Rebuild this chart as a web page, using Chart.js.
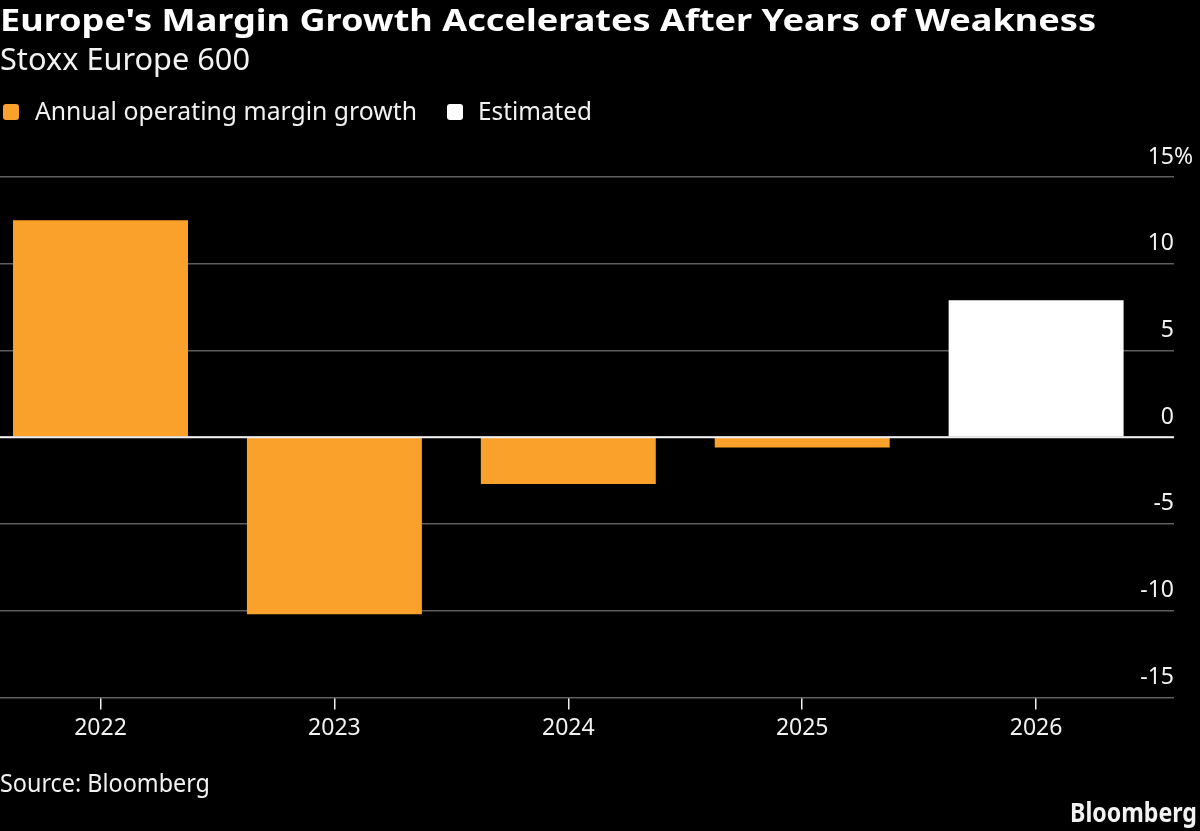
<!DOCTYPE html>
<html>
<head>
<meta charset="utf-8">
<script src="https://cdn.jsdelivr.net/npm/chart.js@4"></script>
<style>
  html, body { margin: 0; padding: 0; background: #000; }
  body { width: 1200px; height: 831px; position: relative; overflow: hidden; font-family: "Noto Sans", sans-serif; color: #f2f2f2; }
  .txt { position: absolute; left: 0; line-height: 1; white-space: nowrap; transform-origin: 0 0; }
  #title { top: 4px; font-size: 31px; font-weight: 700; color: #fff; }
  #subtitle { top: 43px; font-size: 31px; font-weight: 400; }
  .legend { top: 98px; font-size: 25px; }
  .sw { position: absolute; width: 16px; height: 16px; border-radius: 3px; top: 104px; }
  #source { top: 769px; font-size: 26px; }
  #logo { top: 799px; left: 1070px; font-size: 26px; font-weight: 700; }
  #wrap { position: absolute; left: 0; top: 0; width: 1200px; height: 831px; }
</style>
</head>
<body>
<div id="wrap"><canvas id="marginChart"></canvas></div>

<div class="txt" id="title" data-w="1096">Europe's Margin Growth Accelerates After Years of Weakness</div>
<div class="txt" id="subtitle" data-w="250">Stoxx Europe 600</div>
<div class="sw" style="left:3px;background:#faa12b"></div>
<div class="txt legend" style="left:35px" data-w="382">Annual operating margin growth</div>
<div class="sw" style="left:447px;background:#fff"></div>
<div class="txt legend" style="left:478px" data-w="114">Estimated</div>
<div class="txt" id="source" data-w="210">Source: Bloomberg</div>
<div class="txt" id="logo" data-w="127">Bloomberg</div>

<script>
const years = [2022, 2023, 2024, 2025, 2026];
const actualGrowth = [12.5, -10.2, -2.7, -0.6, null];
const estimatedGrowth = [null, null, null, null, 7.9];
const yTicks = [-15, -10, -5, 0, 5, 10, 15];

// squeeze the text to the widths of the original font
document.querySelectorAll(".txt[data-w]").forEach(el => {
    const w = el.getBoundingClientRect().width;
    el.style.transform = "scaleX(" + (Number(el.dataset.w) / w) + ")";
});

const toPoints = arr => arr
    .map((v, i) => ({ x: years[i], y: v }))
    .filter(p => p.y !== null);

// zero line on top of the bars + hanging % on the top label
const extras = {
    id: "extras",
    afterDatasetsDraw(chart) {
        const { ctx, chartArea, scales: { y } } = chart;
        const y0 = y.getPixelForValue(0);
        ctx.save();
        ctx.strokeStyle = "#f0f0f0";
        ctx.lineWidth = 2;
        ctx.beginPath();
        ctx.moveTo(chartArea.left, y0);
        ctx.lineTo(chartArea.right, y0);
        ctx.stroke();

        ctx.fillStyle = "#f2f2f2";
        ctx.font = "23px 'Noto Sans'";
        ctx.textAlign = "left";
        ctx.textBaseline = "middle";
        ctx.fillText("%", chartArea.right, y.getPixelForValue(yTicks[yTicks.length - 1]) - 20);
        ctx.restore();
    }
};

const ctx = document.getElementById("marginChart").getContext("2d");
new Chart(ctx, {
    type: "bar",
    data: {
        datasets: [{
            label: "Annual operating margin growth",
            data: toPoints(actualGrowth),
            backgroundColor: "#faa12b"
        }, {
            label: "Estimated",
            data: toPoints(estimatedGrowth),
            backgroundColor: "#ffffff"
        }]
    },
    options: {
        responsive: true,
        maintainAspectRatio: false,
        animation: false,
        devicePixelRatio: 1,
        grouped: false,
        categoryPercentage: 1,
        barPercentage: 0.748,
        layout: { padding: { top: 177, left: 0, right: 26, bottom: 84 } },
        plugins: {
            legend: { display: false },
            tooltip: { enabled: false }
        },
        scales: {
            x: {
                type: "linear",
                min: 2021.5703,
                max: 2026.5895,
                offset: false,
                border: { display: false },
                grid: {
                    offset: false,
                    drawOnChartArea: false,
                    drawTicks: true,
                    tickLength: 12,
                    color: "#f0f0f0",
                    lineWidth: 1.5
                },
                ticks: {
                    stepSize: 1,
                    includeBounds: false,
                    autoSkip: false,
                    maxRotation: 0,
                    padding: 5,
                    color: "#f2f2f2",
                    font: { family: "Noto Sans", size: 23 },
                    callback: v => years.includes(v) ? String(v) : ""
                }
            },
            y: {
                position: "right",
                min: yTicks[0],
                max: yTicks[yTicks.length - 1],
                border: { display: false },
                grid: {
                    drawTicks: false,
                    color: "#5e5e5e",
                    lineWidth: 1.5
                },
                ticks: {
                    stepSize: 5,
                    mirror: true,
                    padding: 0,
                    labelOffset: -20,
                    color: "#f2f2f2",
                    font: { family: "Noto Sans", size: 23 },
                    callback: v => String(v)
                }
            }
        }
    },
    plugins: [extras]
});
</script>
</body>
</html>
